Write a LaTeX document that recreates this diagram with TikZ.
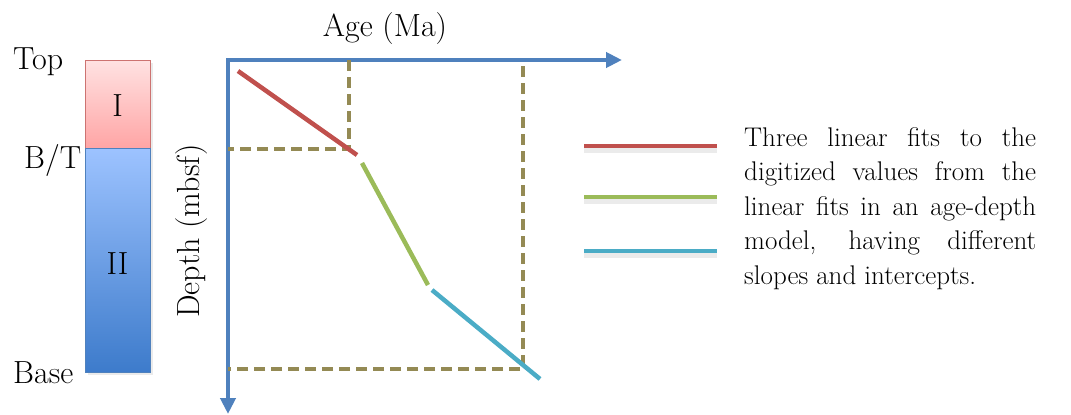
\documentclass[tikz,border=0pt]{standalone}
\usepackage{fontspec}
\usetikzlibrary{arrows.meta}
\definecolor{axisblue}{HTML}{4F81BD}
\definecolor{fitred}{HTML}{C0504D}
\definecolor{fitgreen}{HTML}{9BBB59}
\definecolor{fitcyan}{HTML}{4BACC6}
\definecolor{dashol}{HTML}{948A54}
\definecolor{redtop}{HTML}{FFE2E2}
\definecolor{redbot}{HTML}{FFA5A5}
\definecolor{bluetop}{HTML}{9DC3FF}
\definecolor{bluebot}{HTML}{3D7BCB}
\newcommand{\jline}[1]{\makebox[292pt][s]{#1}\\}
\begin{document}
\begin{tikzpicture}[x=1pt,y=-1pt,
  lbl/.style={inner sep=0pt,font=\fontsize{32}{36}\selectfont},
  axisline/.style={draw=axisblue,line width=4.5pt,-{Triangle[length=16pt,width=15pt]}},
  guide/.style={draw=dashol,line width=4.5pt,dash pattern=on 11pt off 6pt},
  fit/.style={line width=4.5pt},
  shadowline/.style={draw=black!8,line width=6pt}
  ]
\useasboundingbox (0,0) rectangle (1071,415);
% column
\fill[black!8] (88,63) rectangle (153,375);
\shade[top color=redtop,bottom color=redbot] (85,60) rectangle (150,148);
\draw[fitred!80,line width=1pt] (85,60) rectangle (150,148);
\shade[top color=bluetop,bottom color=bluebot] (85,148) rectangle (150,372);
\draw[axisblue,line width=1pt] (85,148) rectangle (150,372);
\node[lbl] (u1) at (117.5,106) {I};
\node[lbl] (u2) at (117.5,264) {II};
\node[lbl,anchor=west] (top) at (13,62) {Top};
\node[lbl,anchor=west] (bt) at (24,160) {B/T};
\node[lbl,anchor=west] (base) at (13,373) {Base};
\node[lbl,rotate=90] (depth) at (192,231) {Depth (mbsf)};
\node[lbl] (age) at (385,29) {Age (Ma)};
% axes
\coordinate (o) at (228,60);
\coordinate (xend) at (622,60);
\coordinate (yend) at (228,414);
\draw[axisline] (226,60) -- (xend);
\draw[axisline] (228,58) -- (yend);
% guides
\coordinate (g1) at (349,149);
\coordinate (g2) at (523,369);
\draw[guide] (349,60) -- (g1) -- (228,149);
\draw[guide] (523,66) -- (g2) -- (228,369);
% fits
\coordinate (r1) at (238,71); \coordinate (r2) at (357,155);
\coordinate (gr1) at (362,163); \coordinate (gr2) at (428,285);
\coordinate (c1) at (432,290); \coordinate (c2) at (540,379);
\draw[fit,fitred] (r1) -- (r2);
\draw[fit,fitgreen] (gr1) -- (gr2);
\draw[fit,fitcyan] (c1) -- (c2);
% legend
\coordinate (l1a) at (584,146); \coordinate (l1b) at (717,146);
\coordinate (l2a) at (584,197); \coordinate (l2b) at (717,197);
\coordinate (l3a) at (584,251); \coordinate (l3b) at (717,251);
\draw[shadowline] ([yshift=-4pt]l1a) -- ([yshift=-4pt]l1b);
\draw[shadowline] ([yshift=-4pt]l2a) -- ([yshift=-4pt]l2b);
\draw[shadowline] ([yshift=-4pt]l3a) -- ([yshift=-4pt]l3b);
\draw[fit,fitred] (l1a) -- (l1b);
\draw[fit,fitgreen] (l2a) -- (l2b);
\draw[fit,fitcyan] (l3a) -- (l3b);
\node[anchor=north west,inner sep=0pt,align=left,
  font=\fontsize{27}{34.5}\selectfont] (txt) at (744,127)
  {\jline{Three linear fits to the}\jline{digitized values from the}\jline{linear fits in an age-depth}\jline{model, having different}slopes and intercepts.};
\end{tikzpicture}
\end{document}
